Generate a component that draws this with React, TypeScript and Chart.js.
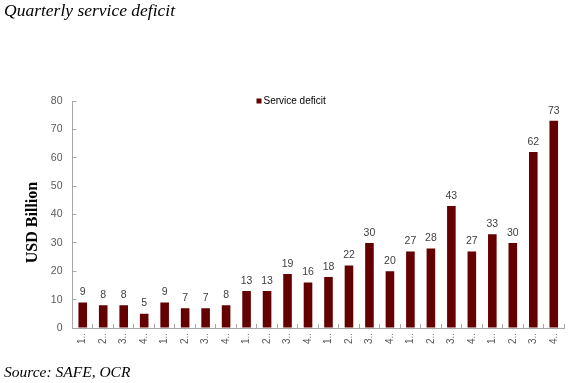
import React, { useEffect, useRef } from 'react';
import { Chart, registerables } from 'chart.js';

Chart.register(...registerables);

const categories = [
  '1..', '2..', '3..', '4..',
  '1..', '2..', '3..', '4..',
  '1..', '2..', '3..', '4..',
  '1..', '2..', '3..', '4..',
  '1..', '2..', '3..', '4..',
  '1..', '2..', '3..', '4..',
];
const serviceDeficit = [9, 8, 8, 5, 9, 7, 7, 8, 13, 13, 19, 16, 18, 22, 30, 20, 27, 28, 43, 27, 33, 30, 62, 73];
const yMin = 0;
const yMax = 80;
const yStep = 10;
const seriesName = 'Service deficit';
const titleText = 'Quarterly service deficit';
const sourceText = 'Source: SAFE, OCR';
const yAxisTitle = 'USD Billion';

const BAR_COLOR = '#650000';
const SANS = '"Liberation Sans", Arial, sans-serif';
const SERIF = '"Liberation Serif", "Times New Roman", serif';

const overlayPlugin = {
  id: 'overlayPlugin',
  afterDatasetsDraw(chart: any) {
    const ctx = chart.ctx;
    const meta = chart.getDatasetMeta(0);
    const data = chart.data.datasets[0].data;
    const ca = chart.chartArea;
    ctx.save();
    // value labels
    ctx.font = `10.5px ${SANS}`;
    ctx.fillStyle = '#404040';
    ctx.textAlign = 'center';
    ctx.textBaseline = 'bottom';
    meta.data.forEach((bar: any, i: number) => {
      ctx.fillText(String(data[i]), bar.x, bar.y - 5);
    });
    // legend
    const lx = ca.left + 184;
    const ly = ca.top;
    ctx.fillStyle = BAR_COLOR;
    ctx.fillRect(lx, ly - 2.5, 5, 5);
    ctx.fillStyle = '#000000';
    ctx.font = `10px ${SANS}`;
    ctx.textAlign = 'left';
    ctx.textBaseline = 'middle';
    ctx.fillText(chart.data.datasets[0].label, lx + 7, ly);
    // y axis title
    ctx.save();
    ctx.translate(33, (ca.top + ca.bottom) / 2 + 8);
    ctx.rotate(-Math.PI / 2);
    ctx.font = `bold 16px ${SERIF}`;
    ctx.fillStyle = '#000000';
    ctx.textAlign = 'center';
    ctx.textBaseline = 'middle';
    ctx.fillText(yAxisTitle, 0, 0);
    ctx.restore();
    ctx.restore();
  },
};

export default function App() {
  const canvasRef = useRef<HTMLCanvasElement | null>(null);

  useEffect(() => {
    if (!canvasRef.current) return;
    const chart = new Chart(canvasRef.current, {
      type: 'bar',
      data: {
        labels: categories,
        datasets: [
          {
            label: seriesName,
            data: serviceDeficit,
            backgroundColor: BAR_COLOR,
            borderWidth: 0,
            categoryPercentage: 1,
            barPercentage: 0.42,
          },
        ],
      },
      options: {
        responsive: false,
        animation: false,
        devicePixelRatio: 1,
        layout: { padding: { left: 4, right: 6, top: 0, bottom: 0 } },
        plugins: {
          legend: { display: false },
          tooltip: { enabled: false },
          title: {
            display: true,
            text: titleText,
            align: 'start',
            color: '#000000',
            font: { family: SERIF, size: 17.5, style: 'italic', weight: 'normal', lineHeight: 1.2 },
            padding: { top: 1, bottom: 79 },
          },
          subtitle: {
            display: true,
            text: sourceText,
            position: 'bottom',
            align: 'start',
            color: '#000000',
            font: { family: SERIF, size: 15.5, style: 'italic', weight: 'normal', lineHeight: 1.2 },
            padding: { top: 0, bottom: 1 },
          },
        },
        scales: {
          x: {
            type: 'category',
            offset: true,
            grid: {
              display: true,
              drawOnChartArea: false,
              drawTicks: true,
              tickLength: -4,
              offset: true,
              color: '#a6a6a6',
            },
            border: { display: true, color: '#a6a6a6', width: 1 },
            ticks: {
              autoSkip: false,
              minRotation: 90,
              maxRotation: 90,
              padding: 9,
              color: '#595959',
              font: { family: SANS, size: 10 },
            },
            afterFit(scale: any) {
              scale.height = 35.4;
              scale.paddingLeft = 0;
              scale.paddingRight = 0;
            },
          },
          y: {
            min: yMin,
            max: yMax,
            grid: {
              display: true,
              drawOnChartArea: false,
              drawTicks: true,
              tickLength: -4,
              color: '#a6a6a6',
            },
            border: { display: true, color: '#a6a6a6', width: 1 },
            ticks: {
              stepSize: yStep,
              padding: 14,
              color: '#595959',
              font: { family: SANS, size: 10.5 },
            },
            title: { display: false, text: yAxisTitle },
            afterFit(scale: any) {
              scale.width = 68.5;
            },
          },
        },
      },
      plugins: [overlayPlugin],
    });
    return () => chart.destroy();
  }, []);

  return (
    <div style={{ position: 'fixed', left: 0, top: 0, width: 570, height: 383, background: '#ffffff' }}>
      <canvas ref={canvasRef} width={570} height={383} style={{ display: 'block' }} />
    </div>
  );
}
